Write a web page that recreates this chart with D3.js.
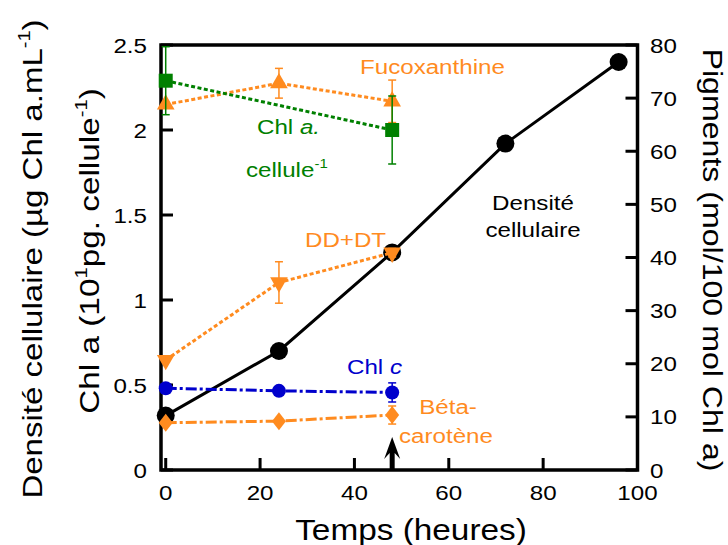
<!DOCTYPE html>
<html><head><meta charset="utf-8">
<script src="https://cdn.jsdelivr.net/npm/d3@7"></script>
<style>body{margin:0;background:#fff}svg{display:block}</style>
</head><body>
<script>
// ---------- data ----------
const densTimes = [0, 24, 48, 72, 96];
const density   = [0.32, 0.70, 1.28, 1.92, 2.40];   // left axis
const chlATimes = [0, 48];
const chlA      = [2.29, 2.00];                      // left axis
const chlAErr   = [0.2, 0.2];
const pigTimes  = [0, 24, 48];
const fuco      = [68.8, 72.8, 69.4];                // right axis
const fucoErr   = [0, 2.8, 4.0];
const ddt       = [20.7, 35.3, 40.9];
const ddtErr    = [0, 3.9, 0.8];
const chlC      = [15.4, 14.9, 14.6];
const chlCErr   = [0, 0, 1.8];
const beta      = [8.9, 9.2, 10.35];
const betaErr   = [0, 0, 1.7];
const arrowTime = [48];
const xTicks = [0, 20, 40, 60, 80, 100];
const leftTicks = [0, 0.5, 1, 1.5, 2, 2.5];
const leftTickLabels = ["0", "0.5", "1", "1.5", "2", "2.5"];
const rightTicks = [0, 10, 20, 30, 40, 50, 60, 70, 80];

// ---------- setup ----------
const W = 728, H = 545;
const FONT = "'Liberation Sans', Arial, Helvetica, sans-serif";
const SX = 1.15;
const ORANGE = "#ff8b1f", GREEN = "#008000", BLUE = "#0000cc";
const svg = d3.select("body").append("svg").attr("width", W).attr("height", H);

const L = 161, R = 637.5, T = 45, B = 470;
const x = d3.scaleLinear().domain([-1, 100]).range([L, R]);
const yL = d3.scaleLinear().domain([0, 2.5]).range([B, T]);
const yR = d3.scaleLinear().domain([0, 80]).range([B, T]);

function label(px, py, rot, anchor, size, parts, color, sx) {
  const t = svg.append("text")
    .attr("transform", `translate(${px},${py}) rotate(${rot}) scale(${sx || SX},1)`)
    .attr("text-anchor", anchor).style("font-family", FONT)
    .attr("font-size", size).attr("fill", color || "#000");
  let shift = 0;
  parts.forEach(p => {
    const ts = t.append("tspan").text(p.t);
    if (p.italic) ts.attr("font-style", "italic");
    if (p.sup) {
      const s = Math.round(size * 0.62);
      const up = -size * 0.42;
      ts.attr("font-size", s).attr("dy", up - shift);
      shift = up;
    } else if (shift !== 0) {
      ts.attr("dy", -shift);
      shift = 0;
    }
  });
  return t;
}

// ---------- axes / frame ----------
const ax = svg.append("g").attr("stroke", "#000").attr("stroke-width", 3);
ax.selectAll(".xt").data(xTicks).join("line")
  .attr("x1", d => x(d)).attr("x2", d => x(d)).attr("y1", B).attr("y2", B - 12);
ax.selectAll(".lt").data(leftTicks).join("line")
  .attr("x1", L).attr("x2", L + 12).attr("y1", d => yL(d)).attr("y2", d => yL(d));
ax.selectAll(".rt").data(rightTicks).join("line")
  .attr("x1", R).attr("x2", R - 12).attr("y1", d => yR(d)).attr("y2", d => yR(d));
svg.append("rect").attr("x", L).attr("y", T).attr("width", R - L).attr("height", B - T)
  .attr("fill", "none").attr("stroke", "#000").attr("stroke-width", 3.5);

xTicks.forEach(v => label(x(v), 500, 0, "middle", 21, [{t: String(v)}]));
leftTicks.forEach((v, i) => label(147, yL(v) + 7.5, 0, "end", 21, [{t: leftTickLabels[i]}]));
rightTicks.forEach(v => label(650, yR(v) + 7.5, 0, "start", 21, [{t: String(v)}]));

label(411, 540, 0, "middle", 29, [{t: "Temps (heures)"}]);
label(42, 259, -90, "middle", 28, [{t: "Densité cellulaire (µg Chl a.mL"}, {t: "-1", sup: true}, {t: ")"}], "#000", 1.18);
label(99, 251, -90, "middle", 28, [{t: "Chl a (10"}, {t: "1", sup: true}, {t: "pg. cellule"}, {t: "-1", sup: true}, {t: ")"}], "#000", 1.19);
label(703, 260, 90, "middle", 27, [{t: "Pigments (mol/100 mol Chl a)"}], "#000", 1.19);

// ---------- series ----------
function series(times, vals, errs, ys, color, dash, width, marker) {
  const g = svg.append("g");
  g.append("path").datum(times.map((t, i) => [t, vals[i]]))
    .attr("d", d3.line().x(d => x(d[0])).y(d => ys(d[1])))
    .attr("fill", "none").attr("stroke", color).attr("stroke-width", width)
    .attr("stroke-dasharray", dash);
  if (errs) {
    times.forEach((t, i) => {
      const e = errs[i]; if (!e) return;
      const cx = x(t), y1 = ys(vals[i] - e), y2 = ys(vals[i] + e);
      g.append("line").attr("x1", cx).attr("x2", cx).attr("y1", y1).attr("y2", y2)
        .attr("stroke", color).attr("stroke-width", 1.5);
      [y1, y2].forEach(yy => g.append("line").attr("x1", cx - 4).attr("x2", cx + 4)
        .attr("y1", yy).attr("y2", yy).attr("stroke", color).attr("stroke-width", 1.5));
    });
  }
  times.forEach((t, i) => {
    g.append("path").attr("d", marker)
      .attr("transform", `translate(${x(t)},${ys(vals[i])})`).attr("fill", color);
  });
}
const circle = r => d3.symbol(d3.symbolCircle, Math.PI * r * r)();
const square = s => d3.symbol(d3.symbolSquare, s * s)();
const triUp = d3.symbol(d3.symbolTriangle, 135)();
const triDown = "M" + triUp.slice(1).split(/(?=[LZ])/).map(seg => {
  if (seg === "Z") return "Z";
  const c = seg.replace(/^[ML]/, "").split(",").map(Number);
  return (seg[0] === "L" ? "L" : "") + c[0] + "," + (-c[1]);
}).join("");
const diamond = "M0,-9L7,0L0,9L-7,0Z";

series(densTimes, density, null, yL, "#000", null, 3, circle(9));
series(pigTimes, fuco, fucoErr, yR, ORANGE, "4,2.5", 3, triUp);
series(chlATimes, chlA, chlAErr, yL, GREEN, "4,2.5", 3, square(14));
series(pigTimes, ddt, ddtErr, yR, ORANGE, "4,2.5", 3, triDown);
series(pigTimes, chlC, chlCErr, yR, BLUE, "11,3,3,3", 3, circle(7));
series(pigTimes, beta, betaErr, yR, ORANGE, "11,3,3,3", 3, diamond);

// arrow
svg.selectAll(".arrow").data(arrowTime).join("path")
  .attr("d", d => {
    const a = x(d);
    return `M${a},437L${a + 8},459L${a + 2.5},453L${a + 2.5},${B}L${a - 2.5},${B}L${a - 2.5},453L${a - 8},459Z`;
  }).attr("fill", "#000");

// ---------- inline labels ----------
label(360, 74, 0, "start", 21, [{t: "Fucoxanthine"}], ORANGE);
label(257, 134, 0, "start", 21, [{t: "Chl "}, {t: "a.", italic: true}], GREEN);
label(246, 177, 0, "start", 21, [{t: "cellule"}, {t: "-1", sup: true}], GREEN);
label(533, 210, 0, "middle", 21, [{t: "Densité"}]);
label(533, 237, 0, "middle", 21, [{t: "cellulaire"}]);
label(305, 247, 0, "start", 21, [{t: "DD+DT"}], ORANGE);
label(347, 374, 0, "start", 21, [{t: "Chl "}, {t: "c", italic: true}], BLUE);
label(448, 414, 0, "middle", 21, [{t: "Béta-"}], ORANGE);
label(446, 443, 0, "middle", 21, [{t: "carotène"}], ORANGE);
</script>
</body></html>
